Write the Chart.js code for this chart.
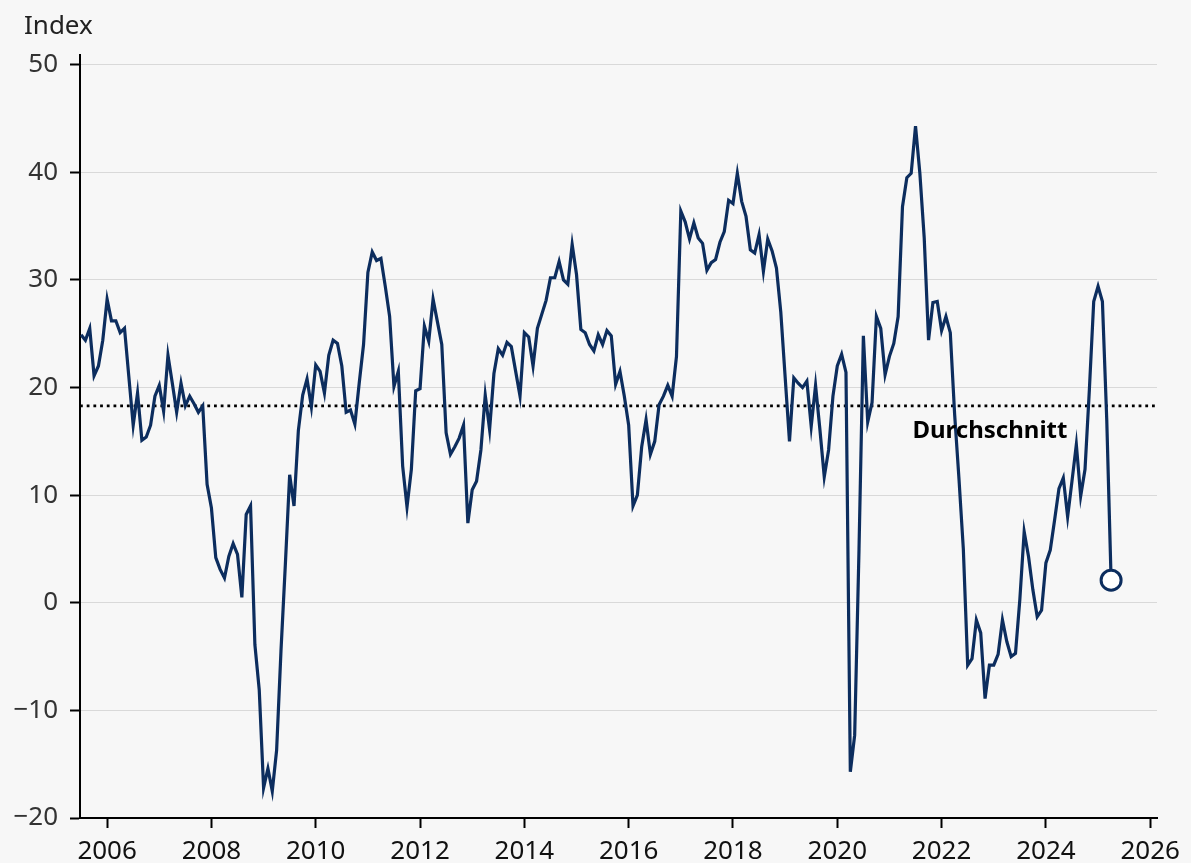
<!DOCTYPE html>
<html>
<head>
<meta charset="utf-8">
<script src="https://cdn.jsdelivr.net/npm/chart.js@4.4.0/dist/chart.umd.min.js"></script>
<style>
  html,body{margin:0;padding:0;background:#f7f7f7;}
  #wrap{width:1191px;height:863px;}
</style>
</head>
<body>
<div id="wrap"><canvas id="c" width="1191" height="863"></canvas></div>
<script>
/* monthly index, first value = July 2005 */
const startYear = 2005, startMonth = 7;
const values = [
  24.9, 24.4, 25.5, 21.1, 22.0, 24.4,                               // 2005 (Jul-Dec)
  28.2, 26.2, 26.2, 25.1, 25.5, 21.0, 16.5, 19.5, 15.1, 15.4, 16.5, 19.2, // 2006
  20.2, 17.8, 23.0, 20.4, 17.7, 20.4, 18.3, 19.2, 18.5, 17.7, 18.3, 11.0, // 2007
  8.8, 4.2, 3.1, 2.3, 4.3, 5.5, 4.5, 0.5, 8.2, 9.0, -3.9, -8.1,           // 2008
  -17.2, -15.4, -17.5, -13.7, -4.5, 3.5, 11.9, 9.0, 16.0, 19.3, 20.8, 18.2, // 2009
  22.1, 21.5, 19.5, 23.0, 24.4, 24.1, 22.0, 17.7, 17.9, 16.6, 20.4, 24.0, // 2010
  30.7, 32.6, 31.8, 32.0, 29.4, 26.6, 20.1, 21.5, 12.7, 8.9, 12.4, 19.7,  // 2011
  19.9, 25.7, 24.3, 28.2, 26.1, 24.0, 15.8, 13.8, 14.5, 15.3, 16.5, 7.4,  // 2012
  10.5, 11.3, 14.2, 19.3, 16.1, 21.3, 23.6, 23.0, 24.2, 23.8, 21.5, 19.2, // 2013
  25.1, 24.7, 22.0, 25.5, 26.8, 28.1, 30.2, 30.2, 31.7, 30.0, 29.6, 33.3, // 2014
  30.5, 25.4, 25.1, 24.0, 23.4, 24.9, 24.0, 25.3, 24.8, 20.3, 21.5, 19.2, // 2015
  16.5, 9.0, 10.0, 14.5, 17.0, 13.8, 15.0, 18.4, 19.2, 20.2, 19.2, 22.9,  // 2016
  36.4, 35.4, 33.8, 35.3, 33.9, 33.4, 30.9, 31.6, 31.9, 33.5, 34.5, 37.4, // 2017
  37.1, 39.9, 37.3, 35.9, 32.8, 32.5, 34.2, 30.8, 33.8, 32.7, 31.1, 27.0, // 2018
  21.0, 15.0, 20.9, 20.4, 20.0, 20.6, 16.4, 20.2, 16.1, 11.7, 14.2, 19.2, // 2019
  22.0, 23.1, 21.4, -15.7, -12.3, 5.0, 24.8, 16.8, 18.6, 26.6, 25.5, 21.2, // 2020
  22.9, 24.1, 26.6, 36.8, 39.5, 39.9, 44.3, 39.9, 33.9, 24.4, 27.9, 28.0, // 2021
  25.3, 26.6, 25.1, 17.5, 11.5, 5.0, -5.8, -5.2, -1.6, -2.8, -8.9, -5.8,  // 2022
  -5.8, -4.8, -1.6, -3.6, -5.0, -4.7, 0.3, 6.6, 4.3, 1.2, -1.3, -0.7,     // 2023
  3.7, 4.9, 7.7, 10.6, 11.6, 8.0, 11.3, 14.7, 9.9, 12.4, 19.8, 28.0,      // 2024
  29.4, 28.0, 17.0, 2.1                                                   // 2025 (Jan-Apr)
];
const average = 18.3;
const xTicks = [2006, 2008, 2010, 2012, 2014, 2016, 2018, 2020, 2022, 2024, 2026];
const yTicks = [-20, -10, 0, 10, 20, 30, 40, 50];
const xMin = 2005.48, xMax = 2026.13;

const NAVY = '#0c2d5e';
const FONT = '"Noto Sans", "Open Sans", sans-serif';

const points = values.map((v, i) => ({ x: startYear + (startMonth - 1 + i) / 12, y: v }));
const lastIdx = points.length - 1;

const bgPlugin = {
  id: 'bg',
  beforeDraw(chart){
    const c = chart.ctx;
    c.save(); c.fillStyle = '#f7f7f7'; c.fillRect(0, 0, chart.width, chart.height); c.restore();
  }
};
const textPlugin = {
  id: 'texts',
  afterDraw(chart){
    const c = chart.ctx, sx = chart.scales.x, sy = chart.scales.y;
    c.save();
    c.fillStyle = '#222';
    c.font = '26px ' + FONT;
    c.textBaseline = 'alphabetic';
    c.textAlign = 'left';
    c.fillText('Index', 24, 34);
    c.fillStyle = '#000';
    c.font = 'bold 24px ' + FONT;
    c.fillText('Durchschnitt', sx.getPixelForValue(2021.44), sy.getPixelForValue(average) + 32);
    c.restore();
  }
};

new Chart(document.getElementById('c'), {
  type: 'line',
  data: {
    datasets: [
      {
        data: points,
        borderColor: NAVY, borderWidth: 3.2, tension: 0,
        pointRadius: ctx => ctx.dataIndex === lastIdx ? 10 : 0,
        pointBorderWidth: 3, pointBorderColor: NAVY, pointBackgroundColor: '#fff',
        order: 0
      },
      {
        data: [{x: xMin, y: average}, {x: xMax, y: average}],
        borderColor: '#000', borderWidth: 2.8, borderDash: [2.8, 3.9],
        pointRadius: 0, order: 1
      }
    ]
  },
  options: {
    responsive: false, animation: false,
    layout: { padding: { left: 0, right: 34, top: 55, bottom: 0 } },
    plugins: { legend: { display: false }, tooltip: { enabled: false } },
    scales: {
      x: {
        type: 'linear', min: xMin, max: xMax,
        afterBuildTicks: s => { s.ticks = xTicks.map(v => ({ value: v })); },
        afterFit: s => { s.height = 45; },
        border: { color: '#000', width: 2 },
        grid: { drawOnChartArea: false, drawTicks: true, tickLength: 10, tickColor: '#000', tickWidth: 2 },
        ticks: { color: '#111', font: { family: FONT, size: 26 }, padding: 8, maxRotation: 0,
                 callback: v => String(v) }
      },
      y: {
        min: -20, max: 50.9,
        afterBuildTicks: s => { s.ticks = yTicks.map(v => ({ value: v })); },
        afterFit: s => { s.width = 80; },
        border: { color: '#000', width: 2 },
        grid: { color: '#d9d9d9', lineWidth: 1, tickLength: 10, tickColor: '#000', tickWidth: 2 },
        ticks: { color: '#333', font: { family: FONT, size: 26 }, padding: 12,
                 callback: v => v < 0 ? '\u2212' + Math.abs(v) : String(v) }
      }
    }
  },
  plugins: [bgPlugin, textPlugin]
});
</script>
</body>
</html>
